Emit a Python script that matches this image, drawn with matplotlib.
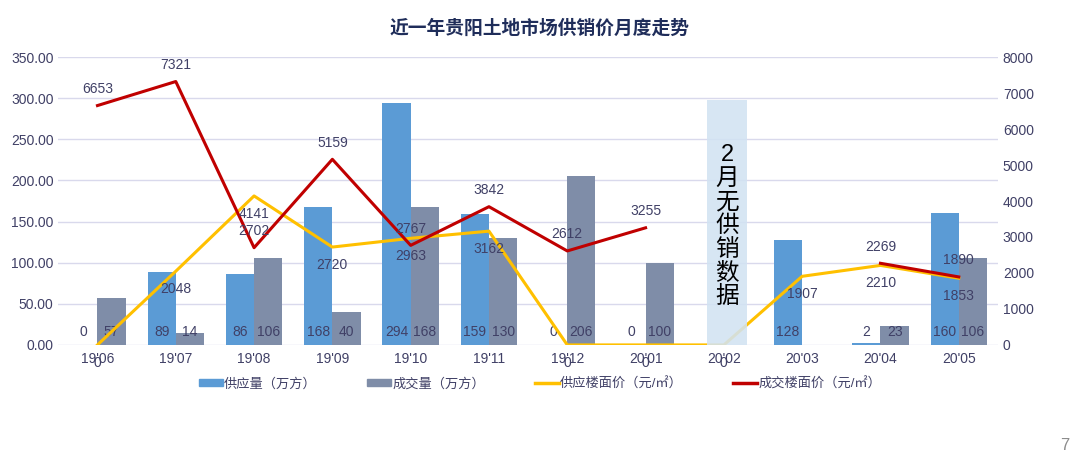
import numpy as np
import matplotlib
matplotlib.use('Agg')
import matplotlib.pyplot as plt
from matplotlib.patches import Patch
from matplotlib.lines import Line2D

plt.rcParams['font.family'] = ['Liberation Sans', 'Noto Sans CJK SC', 'DejaVu Sans']

# data
months = ["19'06", "19'07", "19'08", "19'09", "19'10", "19'11", "19'12",
          "20'01", "20'02", "20'03", "20'04", "20'05"]
supply_area = [0, 89, 86, 168, 294, 159, 0, 0, np.nan, 128, 2, 160]
deal_area = [57, 14, 106, 40, 168, 130, 206, 100, np.nan, np.nan, 23, 106]
supply_price = [0, 2048, 4141, 2720, 2963, 3162, 0, 0, 0, 1907, 2210, 1853]
deal_price = [6653, 7321, 2702, 5159, 2767, 3842, 2612, 3255, np.nan, np.nan, 2269, 1890]
note_month = 8
note_text = '2\n月\n无\n供\n销\n数\n据'
band_top = 6800

c_supply = '#5B9BD5'
c_deal = '#7F8DA8'
c_sp = '#FFC000'
c_dp = '#C00000'
c_txt = '#404066'

fig = plt.figure(figsize=(10.8, 4.68), dpi=100)
ax = fig.add_axes([0.054, 0.263, 0.870, 0.615])
ax2 = ax.twinx()

x = np.arange(len(months))
w = 0.36
ax.bar(x - w/2, supply_area, w, color=c_supply, zorder=2)
ax.bar(x + w/2, deal_area, w, color=c_deal, zorder=2)

for i in range(len(months)):
    if not np.isnan(supply_area[i]):
        ax.annotate(f'{supply_area[i]:.0f}', (x[i] - w/2, 0), xytext=(0, 4),
                    textcoords='offset points', ha='center', va='bottom',
                    fontsize=10, color=c_txt, zorder=5)
    if not np.isnan(deal_area[i]):
        ax.annotate(f'{deal_area[i]:.0f}', (x[i] + w/2, 0), xytext=(0, 4),
                    textcoords='offset points', ha='center', va='bottom',
                    fontsize=10, color=c_txt, zorder=5)

ax.set_ylim(0, 350)
ax.set_yticks(np.arange(0, 351, 50))
ax.set_yticklabels([f'{v:.2f}' for v in np.arange(0, 351, 50)])
ax.set_xlim(-0.5, len(months) - 0.5)
ax.set_xticks(x)
ax.set_xticklabels(months)
ax.grid(axis='y', color='#D9D9EC', lw=1, zorder=0)
ax.set_axisbelow(True)

ax2.plot(x, supply_price, color=c_sp, lw=2.2, zorder=3)
ax2.plot(x, deal_price, color=c_dp, lw=2.2, zorder=4)
ax2.set_ylim(0, 8000)
ax2.set_yticks(np.arange(0, 8001, 1000))

for i in range(len(months)):
    if not np.isnan(supply_price[i]):
        ax2.annotate(f'{supply_price[i]:.0f}', (x[i], supply_price[i]), xytext=(0, -13),
                     textcoords='offset points', ha='center', va='center',
                     fontsize=10, color=c_txt, zorder=6, annotation_clip=False)
    if not np.isnan(deal_price[i]):
        ax2.annotate(f'{deal_price[i]:.0f}', (x[i], deal_price[i]), xytext=(0, 12),
                     textcoords='offset points', ha='center', va='center',
                     fontsize=10, color=c_txt, zorder=6)

# band for the month without data
ax2.bar(note_month + 0.04, band_top, 0.5, color='#D2E3F2', alpha=0.88, zorder=7)
ax2.text(note_month + 0.04, band_top / 2 - 100, note_text, ha='center', va='center',
         fontsize=17, color='black', linespacing=1.1, zorder=8)

for a in (ax, ax2):
    for s in a.spines.values():
        s.set_visible(False)
    a.tick_params(length=0, labelsize=10, colors=c_txt)
ax.tick_params(axis='x', pad=5)

fig.text(0.5, 0.94, '近一年贵阳土地市场供销价月度走势', ha='center', va='center',
         fontsize=13.5, fontweight='bold', color='#1F2D5A')
fig.text(0.986, 0.048, '7', ha='center', va='center', fontsize=12, color='#8C8C8C')

handles = [Patch(color=c_supply), Patch(color=c_deal),
           Line2D([], [], color=c_sp, lw=2.5), Line2D([], [], color=c_dp, lw=2.5)]
labels = ['供应量（万方）', '成交量（万方）', '供应楼面价（元/㎡）', '成交楼面价（元/㎡）']
fig.legend(handles, labels, loc='center', bbox_to_anchor=(0.5, 0.18), ncol=4,
           frameon=False, fontsize=9.5, labelcolor=c_txt, handlelength=1.8,
           handleheight=0.4, columnspacing=3.8, handletextpad=0.1)

fig.savefig('out.png', dpi=100)
